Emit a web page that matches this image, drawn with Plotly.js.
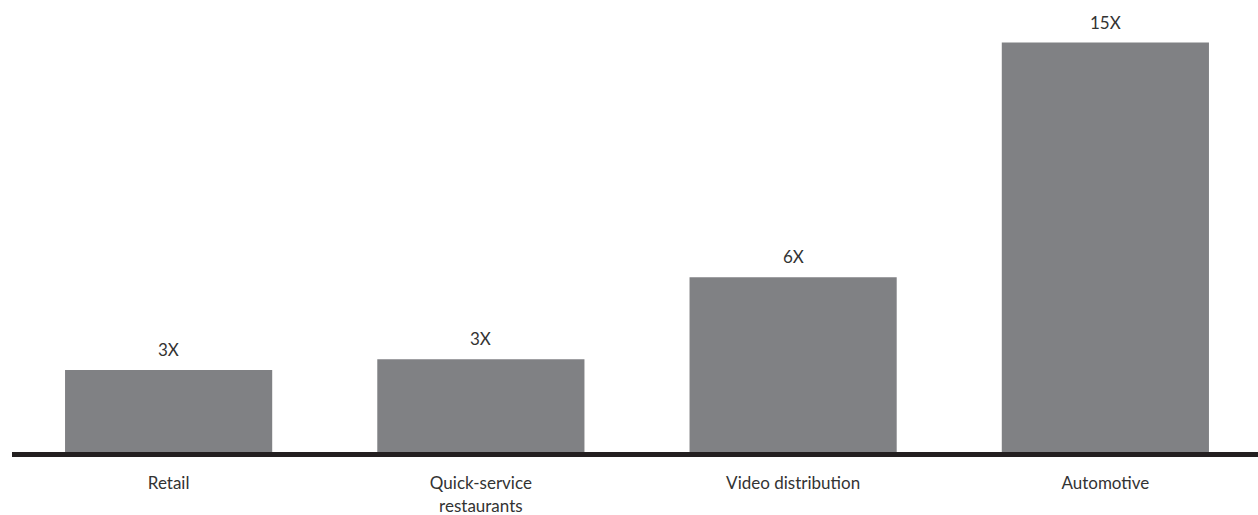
<!DOCTYPE html>
<html>
<head>
<meta charset="utf-8">
<script src="https://cdn.plot.ly/plotly-3.0.1.min.js"></script>
<style>
  html, body { margin: 0; padding: 0; background: #ffffff; }
  #chart { width: 1258px; height: 515px; }
</style>
</head>
<body>
<div id="chart"></div>
<script>
const categories = ["Retail", "Quick-service<br>restaurants", "Video distribution", "Automotive"];
const values = [3.0, 3.4, 6.4, 15.0];
const valueLabels = ["3X", "3X", "6X", "15X"];

const FONT = "Lato, 'Open Sans', sans-serif";
const TEXT_COLOR = "#333333";

const trace = {
  type: "bar",
  x: categories,
  y: values,
  marker: { color: "#808184", line: { width: 0 } },
  hoverinfo: "none"
};

const annotations = categories.map((c, i) => ({
  x: c,
  y: values[i],
  xref: "x",
  yref: "y",
  text: valueLabels[i],
  showarrow: false,
  yanchor: "bottom",
  yshift: 8,
  font: { family: FONT, size: 17, color: TEXT_COLOR }
}));

const layout = {
  width: 1258,
  height: 515,
  margin: { l: 12, r: 0, t: 0, b: 63 },
  paper_bgcolor: "#ffffff",
  plot_bgcolor: "#ffffff",
  showlegend: false,
  bargap: 0.3365,
  xaxis: {
    type: "category",
    range: [-0.5016, 3.4888],
    showline: true,
    linecolor: "#231f20",
    linewidth: 5,
    showgrid: false,
    zeroline: false,
    ticks: "",
    ticklabelstandoff: 12,
    tickfont: { family: FONT, size: 17, color: TEXT_COLOR },
    fixedrange: true
  },
  yaxis: {
    range: [0, 16.56],
    showline: false,
    showgrid: false,
    zeroline: false,
    showticklabels: false,
    ticks: "",
    fixedrange: true
  },
  annotations: annotations
};

Plotly.newPlot("chart", [trace], layout, { displayModeBar: false, staticPlot: true });
</script>
</body>
</html>
